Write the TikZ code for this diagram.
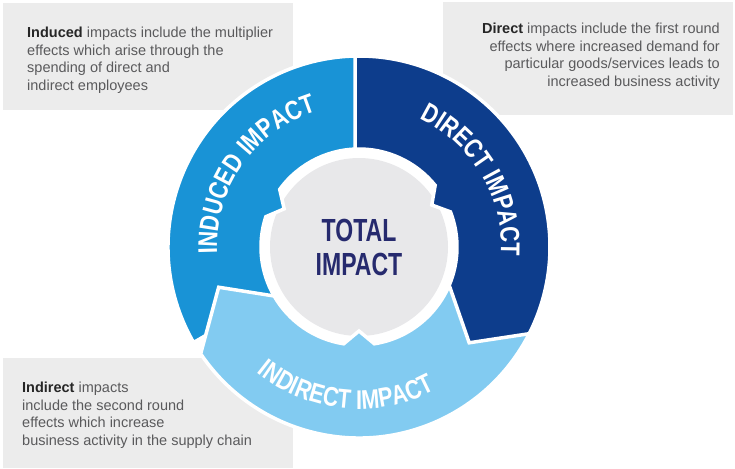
\documentclass[tikz,border=0pt]{standalone}
\usepackage{fontspec}
\setmainfont{Liberation Sans}
\newfontfamily\ringfont[FakeStretch=0.8]{Liberation Sans}
\newfontfamily\totalfont[FakeStretch=0.72]{Liberation Sans}
\usetikzlibrary{decorations.text}

\definecolor{induced}{HTML}{1993D6}
\definecolor{direct}{HTML}{0D3D8C}
\definecolor{indirect}{HTML}{82CBF1}
\definecolor{hubgrey}{HTML}{E8E8EA}
\definecolor{boxgrey}{HTML}{ECECEC}
\definecolor{bodygrey}{HTML}{5A5A5C}
\definecolor{navy}{HTML}{262A6E}

\newcommand\kw[1]{\textbf{\color{black!85}#1}}
\def\Ro{191}
\def\Ri{98}
\def\Rm{146}
\def\Rt{84}

\tikzset{
  seg/.style={draw=white, line width=3.5pt, line join=miter},
  infobox/.style={fill=boxgrey},
  desc/.style={inner sep=0pt, text=bodygrey, font=\fontsize{14.5}{17.5}\selectfont},
  ringtext/.style={decorate, decoration={text along path, text align=center,
    text color=white, text={|\ringfont\bfseries\fontsize{27}{27}\selectfont|#1}}}
}

\begin{document}
\begin{tikzpicture}[x=1pt,y=1pt]
  \useasboundingbox (0,0) rectangle (735,468);

  % grey boxes behind the wheel
  \fill[infobox] (3,358) rectangle (293,465);
  \fill[infobox] (443,353) rectangle (733,466);
  \fill[infobox] (3,0) rectangle (293,110);

  \node[desc, anchor=north west, align=left] (induceddesc) at (27,441)
    {\kw{Induced} impacts include the multiplier\\effects which arise through the\\spending of direct and\\indirect employees};
  \node[desc, anchor=north east, align=right] (directdesc) at (720,445)
    {\kw{Direct} impacts include the first round\\effects where increased demand for\\particular goods/services leads to\\increased business activity};
  \node[desc, anchor=north west, align=left] (indirectdesc) at (22,86)
    {\kw{Indirect} impacts\\include the second round\\effects which increase\\business activity in the supply chain};

  \begin{scope}[shift={(359,221)}]
    \fill[hubgrey] (0,0) circle[radius=89];

    % the three segments, each one over the one before
    \path[seg, fill=induced] (210:\Ro) arc[start angle=210, end angle=88, radius=\Ro]
      -- (88:\Ri) arc[start angle=88, end angle=144, radius=\Ri]
      -- (153:\Rt) -- (162:\Ri) arc[start angle=162, end angle=210, radius=\Ri] -- cycle;
    \path[seg, fill=indirect] (-15:\Ro) arc[start angle=-15, end angle=-146, radius=\Ro]
      -- (-164:\Rm) -- (-150:\Ri) arc[start angle=-150, end angle=-99, radius=\Ri]
      -- (-90:\Rt) -- (-81:\Ri) arc[start angle=-81, end angle=-15, radius=\Ri] -- cycle;
    \path[seg, fill=direct] (91.2:\Ro) arc[start angle=91.2, end angle=-27, radius=\Ro]
      -- (-41:\Rm) -- (-23:\Ri) arc[start angle=-23, end angle=21, radius=\Ri]
      -- (30:\Rt) -- (39:\Ri) arc[start angle=39, end angle=92.3, radius=\Ri] -- cycle;

    \path[ringtext=INDUCED IMPACT] (225:142) arc[start angle=225, end angle=65, radius=142];
    \path[ringtext=DIRECT IMPACT] (110.5:142) arc[start angle=110.5, end angle=-49.5, radius=142];
    \path[ringtext=INDIRECT IMPACT] (195:162) arc[start angle=195, end angle=334, radius=162];

    \node[text=navy, align=center, font=\totalfont\bfseries\fontsize{32}{34}\selectfont] (total) at (0,0) {TOTAL\\IMPACT};
  \end{scope}
\end{tikzpicture}
\end{document}
